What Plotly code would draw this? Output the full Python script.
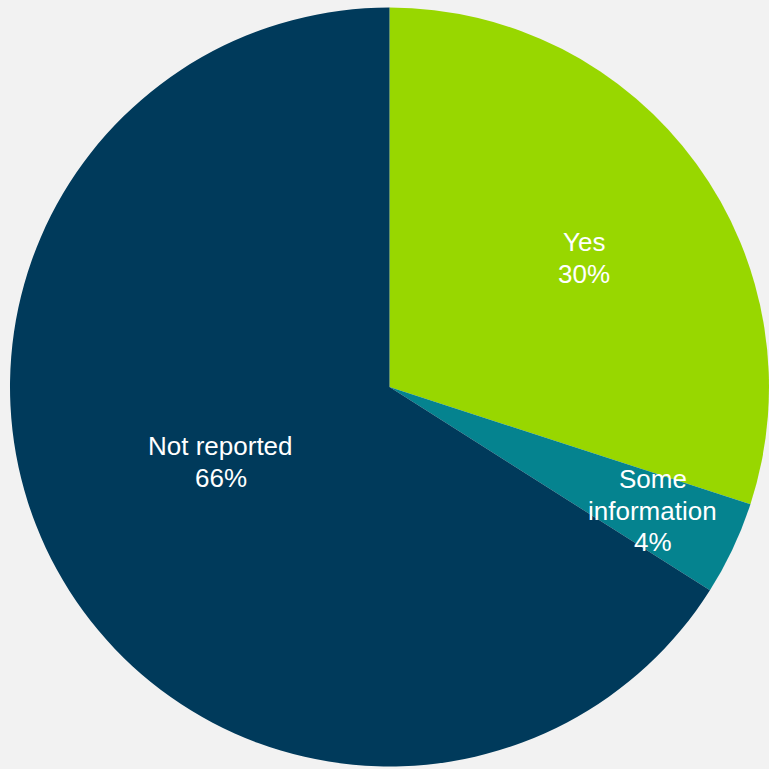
import math
import plotly.graph_objects as go

# Share of responses by reporting status
labels = ["Yes", "Some information", "Not reported"]
shares = [30, 4, 66]
label_lines = [["Yes"], ["Some", "information"], ["Not reported"]]

colors = ["#98D700", "#05838F", "#003A5B"]
bg = "#F2F2F2"

W, H = 769, 769
# pie placement in pixels (left edge of domain, vertical centre)
x0_px = 10
cy_px = 387
r_px = (W - x0_px) / 2
cx_px = x0_px + r_px

fig = go.Figure(
    go.Pie(
        labels=labels,
        values=shares,
        sort=False,
        direction="clockwise",
        rotation=0,
        marker=dict(colors=colors, line=dict(width=0)),
        textinfo="none",
        hoverinfo="skip",
        showlegend=False,
        domain=dict(
            x=[x0_px / W, 1],
            y=[(H - cy_px - r_px) / H, (H - cy_px + r_px) / H],
        ),
    )
)

# label placement: fraction of radius and small angular nudge (degrees)
radial_frac = [0.614, 0.767, 0.487]
angle_nudge = [2.4, 0.0, 4.9]
font_size = 26
line_gap = 31.5

total = sum(shares)
cum = 0
for lines, val, frac, nudge in zip(label_lines, shares, radial_frac, angle_nudge):
    mid = (cum + val / 2) / total * 2 * math.pi + math.radians(nudge)
    cum += val
    px = cx_px + frac * r_px * math.sin(mid)
    py = cy_px - frac * r_px * math.cos(mid)
    rows = lines + [f"{round(val / total * 100)}%"]
    n = len(rows)
    for i, row in enumerate(rows):
        ly = py + (i - (n - 1) / 2) * line_gap
        fig.add_annotation(
            x=px / W,
            y=1 - ly / H,
            xref="paper",
            yref="paper",
            text=row,
            showarrow=False,
            xanchor="center",
            yanchor="middle",
            font=dict(family="Liberation Sans, Arial, sans-serif",
                      size=font_size, color="white"),
        )

fig.update_layout(
    width=W,
    height=H,
    margin=dict(l=0, r=0, t=0, b=0),
    paper_bgcolor=bg,
    plot_bgcolor=bg,
)

fig.write_html("out.html")
